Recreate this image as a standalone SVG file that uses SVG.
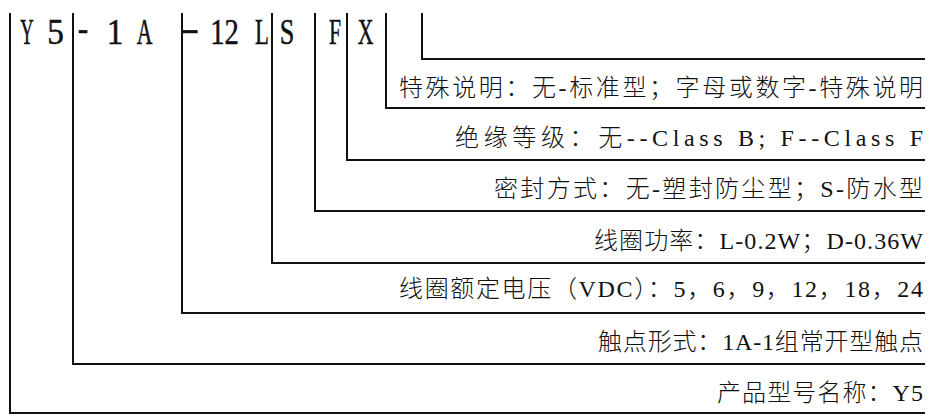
<svg xmlns="http://www.w3.org/2000/svg" width="932" height="417" viewBox="0 0 932 417">
<style>
.bg{fill:#ffffff}
.conn{fill:none;stroke:#111;stroke-width:2;stroke-linejoin:miter;stroke-linecap:butt}
.code{font-family:"Liberation Serif","Times New Roman",serif;font-size:35px;fill:#111;stroke:#111;stroke-width:0.5;text-anchor:middle}
.lbl{font-family:"Liberation Serif","Noto Sans CJK SC",serif;font-size:24px;font-weight:300;fill:#111}
</style>
<rect class="bg" x="0" y="0" width="932" height="417"/>
<g id="connectors">
<path class="conn" d="M10,13 V413 H925"/>
<path class="conn" d="M73,13 V364 H925"/>
<path class="conn" d="M182,13 V313 H925"/>
<path class="conn" d="M272,13 V263 H925"/>
<path class="conn" d="M315,13 V211 H925"/>
<path class="conn" d="M347,13 V160 H925"/>
<path class="conn" d="M386,13 V108 H925"/>
<path class="conn" d="M422,13 V59 H925"/>
</g>
<g id="code-Y5">
<text class="code" transform="translate(27,44) scale(0.53,1)">Y</text>
<text class="code" transform="translate(55.5,44) scale(0.95,1)">5</text>
</g>
<g id="code-1A">
<text class="code" transform="translate(83,40) scale(0.9,1)">-</text>
<text class="code" transform="translate(115,44) scale(0.95,1)">1</text>
<text class="code" transform="translate(144.5,44) scale(0.62,1)">A</text>
</g>
<g id="code-12L">
<text class="code" transform="translate(189.5,40) scale(1.65,1)">-</text>
<text class="code" transform="translate(224.5,44) scale(0.82,1)">12</text>
<text class="code" transform="translate(262,44) scale(0.65,1)">L</text>
</g>
<g id="code-S">
<text class="code" transform="translate(287,44) scale(0.75,1)">S</text>
</g>
<g id="code-F">
<text class="code" transform="translate(335,44) scale(0.62,1)">F</text>
</g>
<g id="code-X">
<text class="code" transform="translate(365.5,44) scale(0.62,1)">X</text>
</g>
<g id="label-special">
<text class="lbl" x="399" y="96" textLength="524" lengthAdjust="spacing">特殊说明：无-标准型；字母或数字-特殊说明</text>
</g>
<g id="label-insulation">
<text class="lbl" x="455" y="146" textLength="468" lengthAdjust="spacing">绝缘等级：无--Class B; F--Class F</text>
</g>
<g id="label-seal">
<text class="lbl" x="494" y="197" textLength="429" lengthAdjust="spacing">密封方式：无-塑封防尘型；S-防水型</text>
</g>
<g id="label-power">
<text class="lbl" x="594" y="249" textLength="329" lengthAdjust="spacing">线圈功率：L-0.2W；D-0.36W</text>
</g>
<g id="label-voltage">
<text class="lbl" x="399" y="297" textLength="524" lengthAdjust="spacing">线圈额定电压（VDC）：5，6，9，12，18，24</text>
</g>
<g id="label-contact">
<text class="lbl" x="598" y="350" textLength="325" lengthAdjust="spacing">触点形式：1A-1组常开型触点</text>
</g>
<g id="label-name">
<text class="lbl" x="717" y="401" textLength="206" lengthAdjust="spacing">产品型号名称：Y5</text>
</g>
</svg>
